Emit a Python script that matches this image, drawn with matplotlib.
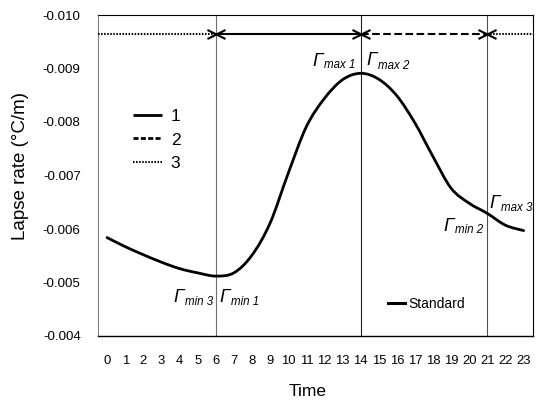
import matplotlib
matplotlib.use("Agg")
import matplotlib.pyplot as plt
from matplotlib.lines import Line2D
from matplotlib.path import Path
from matplotlib.patches import PathPatch
import numpy as np

# ---- data ----
hours = list(range(24))
lapse_rate = [-0.00584, -0.00567, -0.00552, -0.00538, -0.00526, -0.00518,
              -0.00512, -0.00518, -0.00551, -0.00611, -0.00704, -0.00791,
              -0.00844, -0.00879, -0.00891, -0.00880, -0.00849, -0.00798,
              -0.00735, -0.00676, -0.00648, -0.00629, -0.00607, -0.00597]
boundaries = [6, 14, 21]
arrow_level = -0.00964
y_ticks = [-0.010, -0.009, -0.008, -0.007, -0.006, -0.005, -0.004]
period_labels = ["1", "2", "3"]
series_label = "Standard"

plt.rcParams["font.family"] = ["Liberation Sans", "DejaVu Sans"]
plt.rcParams["lines.scale_dashes"] = False

fig = plt.figure(figsize=(5.36, 4.0), dpi=100)
ax = fig.add_axes([98 / 536, 1 - 336 / 400, 434.7 / 536, 321 / 400])

ax.set_xlim(-0.5, 23.5)
ax.set_ylim(-0.004, -0.010)
ax.set_xticks(hours)
ax.set_xticklabels([str(h) for h in hours])
ax.set_yticks(y_ticks)
ax.set_yticklabels([f"{v:.3f}" for v in y_ticks])
ax.tick_params(axis="x", length=0, pad=14.0, labelsize=9.4)
ax.tick_params(axis="y", length=0, pad=12.5, labelsize=9.6)

for side in ["top", "right", "bottom"]:
    ax.spines[side].set_color("black")
    ax.spines[side].set_linewidth(0.8)
ax.spines["bottom"].set_linewidth(1.0)
ax.spines["left"].set_color("#808080")
ax.spines["left"].set_linewidth(0.8)

# vertical boundaries
vcolors = ["#707070", "#202020", "#505050"]
for b, c in zip(boundaries, vcolors):
    ax.axvline(b, color=c, lw=0.8, zorder=1)

# main curve: smoothed (Bezier through the data points, like a smoothed line)
P = np.column_stack([hours, lapse_rate]).astype(float)
verts = [tuple(P[0])]
codes = [Path.MOVETO]
n = len(P)
for i in range(n - 1):
    p0 = P[max(i - 1, 0)]
    p1 = P[i]
    p2 = P[i + 1]
    p3 = P[min(i + 2, n - 1)]
    c1 = p1 + (p2 - p0) / 6.0
    c2 = p2 - (p3 - p1) / 6.0
    verts += [tuple(c1), tuple(c2), tuple(p2)]
    codes += [Path.CURVE4] * 3
curve = PathPatch(Path(verts, codes), facecolor="none", edgecolor="black",
                  lw=2.0, capstyle="round", joinstyle="round", zorder=3)
ax.add_patch(curve)
ax.plot([], [], color="black", lw=2.2, label=series_label)

# arrows
xl, xr = ax.get_xlim()
solid = (0, ())
dashed = (0, (5.5, 2.5))
dotted = (0, (1.1, 1.1))
segs = [(xl, boundaries[0], dotted), (boundaries[0], boundaries[1], solid),
        (boundaries[1], boundaries[2], dashed), (boundaries[2], xr, dotted)]
for x0, x1, ls in segs:
    ax.plot([x0, x1], [arrow_level, arrow_level], color="black", lw=1.5,
            linestyle=ls, solid_capstyle="butt", dash_capstyle="butt", zorder=4)

right_head = Path([(-1, 0.5), (0, 0), (-1, -0.5)],
                  [Path.MOVETO, Path.LINETO, Path.LINETO])
left_head = Path([(1, 0.5), (0, 0), (1, -0.5)],
                 [Path.MOVETO, Path.LINETO, Path.LINETO])
ax.plot(boundaries, [arrow_level] * len(boundaries), linestyle="none",
        marker=right_head, markersize=13, markerfacecolor="none",
        markeredgecolor="black", markeredgewidth=1.5, zorder=5)
ax.plot(boundaries, [arrow_level] * len(boundaries), linestyle="none",
        marker=left_head, markersize=13, markerfacecolor="none",
        markeredgecolor="black", markeredgewidth=1.5, zorder=5)

# Gamma labels: big italic Gamma + smaller italic subscript
FS_G = 13.5
FS_S = 8.3
DESC = 0.212  # Liberation Sans descent (em)
SUB_DROP = 2.5  # points


def glabel(x, y, sub, side, dx):
    if side == "left":  # label to the right of the line
        g = ax.annotate("Γ", xy=(x, y), xytext=(dx, 0),
                        textcoords="offset points", ha="left", va="baseline",
                        fontsize=FS_G, style="italic", annotation_clip=False)
        ax.annotate(sub, xy=(1, 0), xycoords=g,
                    xytext=(0.6, FS_G * DESC - SUB_DROP),
                    textcoords="offset points", ha="left", va="baseline",
                    fontsize=FS_S, style="italic", annotation_clip=False)
    else:  # label to the left of the line
        s = ax.annotate(sub, xy=(x, y), xytext=(dx, -SUB_DROP),
                        textcoords="offset points", ha="right", va="baseline",
                        fontsize=FS_S, style="italic", annotation_clip=False)
        ax.annotate("Γ", xy=(0, 0), xycoords=s,
                    xytext=(-0.6, FS_S * DESC + SUB_DROP),
                    textcoords="offset points", ha="right", va="baseline",
                    fontsize=FS_G, style="italic", annotation_clip=False)


glabel(boundaries[1], -0.009065, "max 1", "right", -3.6)
glabel(boundaries[1], -0.009065, "max 2", "left", 4.2)
glabel(boundaries[0], -0.004641, "min 3", "right", -1.9)
glabel(boundaries[0], -0.004641, "min 1", "left", 2.8)
glabel(boundaries[2], -0.005981, "min 2", "right", -3.4)
glabel(boundaries[2], -0.006393, "max 3", "left", 1.6)

# period legend
handles = [Line2D([], [], color="black", lw=2.0, linestyle=solid),
           Line2D([], [], color="black", lw=2.0, linestyle=(0, (3.6, 1.7))),
           Line2D([], [], color="black", lw=1.5, linestyle=(0, (1.1, 1.1)))]
leg1 = ax.legend(handles, period_labels, loc="center left",
                 bbox_to_anchor=((133 - 98) / 434.7, (336 - 140) / 321),
                 frameon=False, fontsize=12.5, handlelength=1.67,
                 handletextpad=0.5, labelspacing=0.5, borderpad=0,
                 borderaxespad=0)
ax.add_artist(leg1)

# series legend
ax.legend(loc="center left",
          bbox_to_anchor=((388 - 98) / 434.7, (336 - 304) / 321),
          frameon=False, fontsize=10.0, handlelength=1.25, handletextpad=0.2,
          borderpad=0, borderaxespad=0)

# axis titles
fig.text(308 / 536, 1 - 392 / 400, "Time", ha="center", va="center",
         fontsize=12.5)
fig.text(20.7 / 536, 1 - 166 / 400, "Lapse rate (°C/m)", ha="center",
         va="center", rotation=90, fontsize=13.5)

fig.savefig("out.png", dpi=100)
